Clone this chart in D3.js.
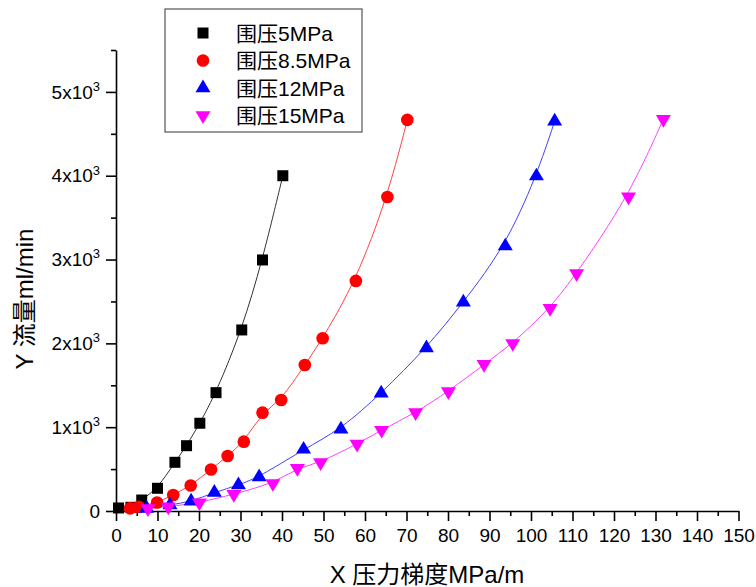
<!DOCTYPE html>
<html>
<head>
<meta charset="utf-8">
<script src="https://cdnjs.cloudflare.com/ajax/libs/d3/7.8.5/d3.min.js"></script>
<style>
  body { margin: 0; background: #fff; }
  svg { display: block; font-family: "Liberation Sans", Arial, "Noto Sans CJK SC", sans-serif; }
</style>
</head>
<body>
<div id="chart"></div>
<script>
// series: x = 压力梯度 (MPa/m), y = 流量 (ml/min)
const names = ["围压5MPa", "围压8.5MPa", "围压12MPa", "围压15MPa"];

const x5  = [0.6, 3.6, 6.2, 10.0, 14.2, 17.0, 20.2, 24.1, 30.3, 35.3, 40.2];
const y5  = [36, 44, 131, 271, 581, 779, 1047, 1412, 2160, 2995, 4000];

const x85 = [3.4, 5.5, 9.9, 13.8, 18.0, 22.9, 26.9, 30.8, 35.3, 39.8, 45.5, 49.8, 57.8, 65.4, 70.2];
const y85 = [32, 51, 101, 191, 304, 495, 656, 827, 1173, 1325, 1742, 2061, 2745, 3747, 4666];

const x12 = [7.4, 13.0, 18.1, 23.7, 29.5, 34.5, 45.2, 54.2, 63.9, 74.8, 83.7, 93.8, 101.3, 105.7];
const y12 = [30, 70, 115, 220, 310, 405, 735, 975, 1405, 1945, 2490, 3160, 3995, 4650];

const x15 = [7.7, 12.6, 20.1, 28.4, 37.8, 43.7, 49.3, 58.1, 64.0, 72.2, 80.1, 88.7, 95.6, 104.6, 111.0, 123.5, 131.9];
const y15 = [30, 50, 100, 200, 330, 510, 580, 800, 965, 1175, 1425, 1750, 2000, 2420, 2835, 3750, 4675];

const xMajor = [0, 10, 20, 30, 40, 50, 60, 70, 80, 90, 100, 110, 120, 130, 140, 150];
const xMinor = [5, 15, 25, 35, 45, 55, 65, 75, 85, 95, 105, 115, 125, 135, 145];
const yMajor = [0, 1000, 2000, 3000, 4000, 5000];
const yMinor = [500, 1500, 2500, 3500, 4500, 5500];

const colors = ["#000000", "#ff0000", "#0000ff", "#ff00ff"];
const lineColors = ["#333333", "#ff4040", "#4040ff", "#ff40ff"];
const shapes = ["square", "circle", "up", "down"];

const W = 756, H = 587;
const svg = d3.select("#chart").append("svg").attr("width", W).attr("height", H);

const x = d3.scaleLinear().domain([0, 150]).range([116, 738.5]);
const y = d3.scaleLinear().domain([0, 5500]).range([511, 50]);

const series = [[x5, y5], [x85, y85], [x12, y12], [x15, y15]].map((s, i) => ({
  name: names[i],
  pts: s[0].map((v, j) => [v, s[1][j]]),
  color: colors[i],
  lineColor: lineColors[i],
  shape: shapes[i]
}));

function symbolPath(shape) {
  if (shape === "square") return "M-5.5,-5.5H5.5V5.5H-5.5Z";
  if (shape === "circle") return d3.symbol(d3.symbolCircle, 125)();
  if (shape === "up") return "M0,-8.5L7.5,4.2L-7.5,4.2Z";
  return "M0,8.5L7.5,-4.2L-7.5,-4.2Z";
}

// axes
const gx = svg.append("g").attr("transform", `translate(0,${y(0)})`)
  .call(d3.axisBottom(x).tickValues(xMajor).tickSize(10).tickSizeOuter(0).tickPadding(8));
svg.append("g").attr("transform", `translate(0,${y(0)})`)
  .call(d3.axisBottom(x).tickValues(xMinor).tickSize(5).tickFormat(""))
  .select(".domain").remove();

const gy = svg.append("g").attr("transform", `translate(${x(0)},0)`)
  .call(d3.axisLeft(y).tickValues(yMajor).tickSize(10).tickSizeOuter(0).tickPadding(6).tickFormat(() => ""));
svg.append("g").attr("transform", `translate(${x(0)},0)`)
  .call(d3.axisLeft(y).tickValues(yMinor).tickSize(5).tickFormat(""))
  .select(".domain").remove();

svg.selectAll(".domain, .tick line").attr("stroke", "#000").attr("stroke-width", 1.6);
gx.selectAll(".tick text").attr("font-size", 19).attr("font-family", "Liberation Sans, Arial, sans-serif").attr("fill", "#000");

gy.selectAll(".tick text").each(function (d) {
  const t = d3.select(this).attr("font-size", 19).attr("fill", "#000");
  t.text(null);
  if (d === 0) { t.append("tspan").text("0"); return; }
  t.append("tspan").text((d / 1000) + "x10");
  t.append("tspan").attr("font-size", 13).attr("dy", "-0.6em").text("3");
});

// axis titles
svg.append("text").attr("x", 427).attr("y", 583).attr("text-anchor", "middle")
  .attr("font-size", 24).attr("fill", "#000").text("X 压力梯度MPa/m");
svg.append("text").attr("transform", "translate(33,299) rotate(-90)").attr("text-anchor", "middle")
  .attr("font-size", 24).attr("fill", "#000").text("Y 流量ml/min");

// fitted curves (smoothed through the points) and symbols
const line = d3.line().x(d => x(d[0])).y(d => y(d[1])).curve(d3.curveBasis);
series.forEach(s => {
  svg.append("path").datum(s.pts).attr("d", line)
    .attr("fill", "none").attr("stroke", s.lineColor).attr("stroke-width", 1);
});
series.forEach(s => {
  svg.append("g").selectAll("path").data(s.pts).join("path")
    .attr("transform", d => `translate(${x(d[0])},${y(d[1])})`)
    .attr("d", symbolPath(s.shape))
    .attr("fill", s.color);
});

// legend
const lg = svg.append("g");
lg.append("rect").attr("x", 165).attr("y", 9).attr("width", 197).attr("height", 123)
  .attr("fill", "#fff").attr("stroke", "#555").attr("stroke-width", 1.2);
series.forEach((s, i) => {
  const ry = 33 + i * 27.5;
  lg.append("path").attr("transform", `translate(203,${ry})`).attr("d", symbolPath(s.shape)).attr("fill", s.color);
  lg.append("text").attr("x", 236).attr("y", ry + 7.5).attr("font-size", 21).attr("fill", "#000").text(s.name);
});
</script>
</body>
</html>
